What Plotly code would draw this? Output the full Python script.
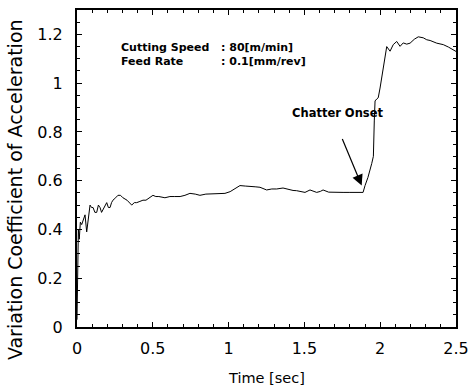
import plotly.graph_objects as go

time_sec = [0.0, 0.003, 0.006, 0.009, 0.015, 0.022, 0.031, 0.042, 0.053, 0.064,
            0.075, 0.086, 0.096, 0.106, 0.118, 0.13, 0.141, 0.152, 0.162, 0.171,
            0.184, 0.196, 0.207, 0.218, 0.228, 0.237, 0.255, 0.27, 0.287, 0.303,
            0.33, 0.361, 0.378, 0.394, 0.415, 0.435, 0.455, 0.475, 0.501, 0.52,
            0.54, 0.58, 0.613, 0.645, 0.68, 0.712, 0.745, 0.78, 0.811, 0.85,
            0.885, 0.92, 0.95, 0.976, 1.01, 1.042, 1.075, 1.11, 1.141, 1.175,
            1.207, 1.251, 1.285, 1.317, 1.359, 1.39, 1.425, 1.449, 1.475, 1.504,
            1.537, 1.56, 1.581, 1.605, 1.623, 1.66, 1.689, 1.72, 1.755, 1.8,
            1.845, 1.887, 1.9, 1.919, 1.944, 1.955, 1.961, 1.966, 1.977, 1.987,
            1.999, 2.01, 2.02, 2.032, 2.043, 2.065, 2.086, 2.109, 2.131, 2.152,
            2.175, 2.197, 2.225, 2.251, 2.284, 2.307, 2.329, 2.373, 2.416, 2.45,
            2.482, 2.5]

variation_coef = [0.03, 0.25, 0.33, 0.40, 0.36, 0.43, 0.42, 0.44, 0.46, 0.39,
                  0.45, 0.50, 0.49, 0.49, 0.47, 0.47, 0.50, 0.49, 0.47, 0.48,
                  0.50, 0.51, 0.49, 0.49, 0.51, 0.52, 0.53, 0.54, 0.54, 0.53,
                  0.52, 0.50, 0.51, 0.51, 0.515, 0.52, 0.52, 0.53, 0.54, 0.535,
                  0.535, 0.53, 0.535, 0.535, 0.535, 0.54, 0.548, 0.545, 0.54, 0.545,
                  0.545, 0.547, 0.545, 0.548, 0.555, 0.566, 0.58, 0.578, 0.578, 0.575,
                  0.573, 0.562, 0.566, 0.566, 0.57, 0.565, 0.56, 0.559, 0.556, 0.552,
                  0.562, 0.558, 0.552, 0.556, 0.562, 0.553, 0.552, 0.552, 0.552, 0.552,
                  0.552, 0.552, 0.58, 0.613, 0.67, 0.70, 0.845, 0.927, 0.935, 0.94,
                  0.98, 1.022, 1.06, 1.117, 1.15, 1.131, 1.158, 1.171, 1.151, 1.165,
                  1.16, 1.164, 1.18, 1.19, 1.186, 1.178, 1.175, 1.164, 1.158, 1.148,
                  1.138, 1.13]

x_ticks = [0, 0.5, 1, 1.5, 2, 2.5]
y_ticks = [0, 0.2, 0.4, 0.6, 0.8, 1, 1.2]

condition_labels = ["Cutting Speed", "Feed Rate"]
condition_values = [": 80[m/min]", ": 0.1[mm/rev]"]

FONT = "DejaVu Sans, Liberation Sans, Arial, sans-serif"

fig = go.Figure()
fig.add_trace(go.Scatter(x=time_sec, y=variation_coef, mode="lines",
                         line=dict(color="black", width=1), showlegend=False))

axis_common = dict(showgrid=False, zeroline=False, showline=True, linecolor="black",
                   linewidth=2, mirror="ticks", ticks="inside", ticklen=5,
                   tickcolor="black", tickwidth=1, automargin=False,
                   tickfont=dict(family=FONT, size=16, color="black"))

fig.update_xaxes(range=[0, 2.5], tickvals=x_ticks, ticklabelstandoff=6,
                 minor=dict(ticks="inside", dtick=0.1, ticklen=3, tickcolor="black"),
                 **axis_common)
fig.update_yaxes(range=[0, 1.3], tickvals=y_ticks, ticklabelstandoff=9,
                 minor=dict(ticks="inside", dtick=0.05, ticklen=3, tickcolor="black"),
                 **axis_common)

# axis titles placed as annotations to match reference positions
fig.add_annotation(x=0.5, y=378, xref="paper", yref="paper", yshift=0,
                   text="Time [sec]", showarrow=False, xanchor="center", yanchor="middle",
                   font=dict(family=FONT, size=14.5, color="black"))
fig.add_annotation(x=-0.1636, y=0.435, xref="paper", yref="paper",
                   text="Variation Coefficient of Acceleration", textangle=-90,
                   showarrow=False, xanchor="center", yanchor="middle",
                   font=dict(family=FONT, size=19, color="black"))

ann_font = dict(family=FONT, size=11, color="black", weight="bold")
fig.add_annotation(x=0.284, y=1.119, xref="x", yref="y",
                   text="<br>".join(condition_labels), borderpad=0, align="left",
                   showarrow=False, xanchor="left", yanchor="middle", font=ann_font)
fig.add_annotation(x=0.945, y=1.119, xref="x", yref="y",
                   text="<br>".join(condition_values), borderpad=0, align="left",
                   showarrow=False, xanchor="left", yanchor="middle", font=ann_font)

fig.add_annotation(x=1.72, y=0.878, xref="x", yref="y", text="Chatter Onset",
                   showarrow=False, xanchor="center", yanchor="middle",
                   font=dict(family=FONT, size=11.5, color="black", weight="bold"))
fig.add_annotation(x=1.878, y=0.58, xref="x", yref="y", text="", showarrow=True,
                   ax=-20, ay=-48, arrowhead=2, arrowsize=1.8, arrowwidth=1.2,
                   arrowcolor="black")

# convert the x-title pixel position (378 px from top) into paper coordinates
PLOT_TOP, PLOT_BOTTOM = 10, 327
fig.layout.annotations[0].y = (PLOT_BOTTOM - 378) / (PLOT_BOTTOM - PLOT_TOP)

fig.update_layout(width=469, height=389, margin=dict(l=77, r=13, t=10, b=62),
                  plot_bgcolor="white", paper_bgcolor="white",
                  font=dict(family=FONT, color="black"))

fig.write_html("out.html")
